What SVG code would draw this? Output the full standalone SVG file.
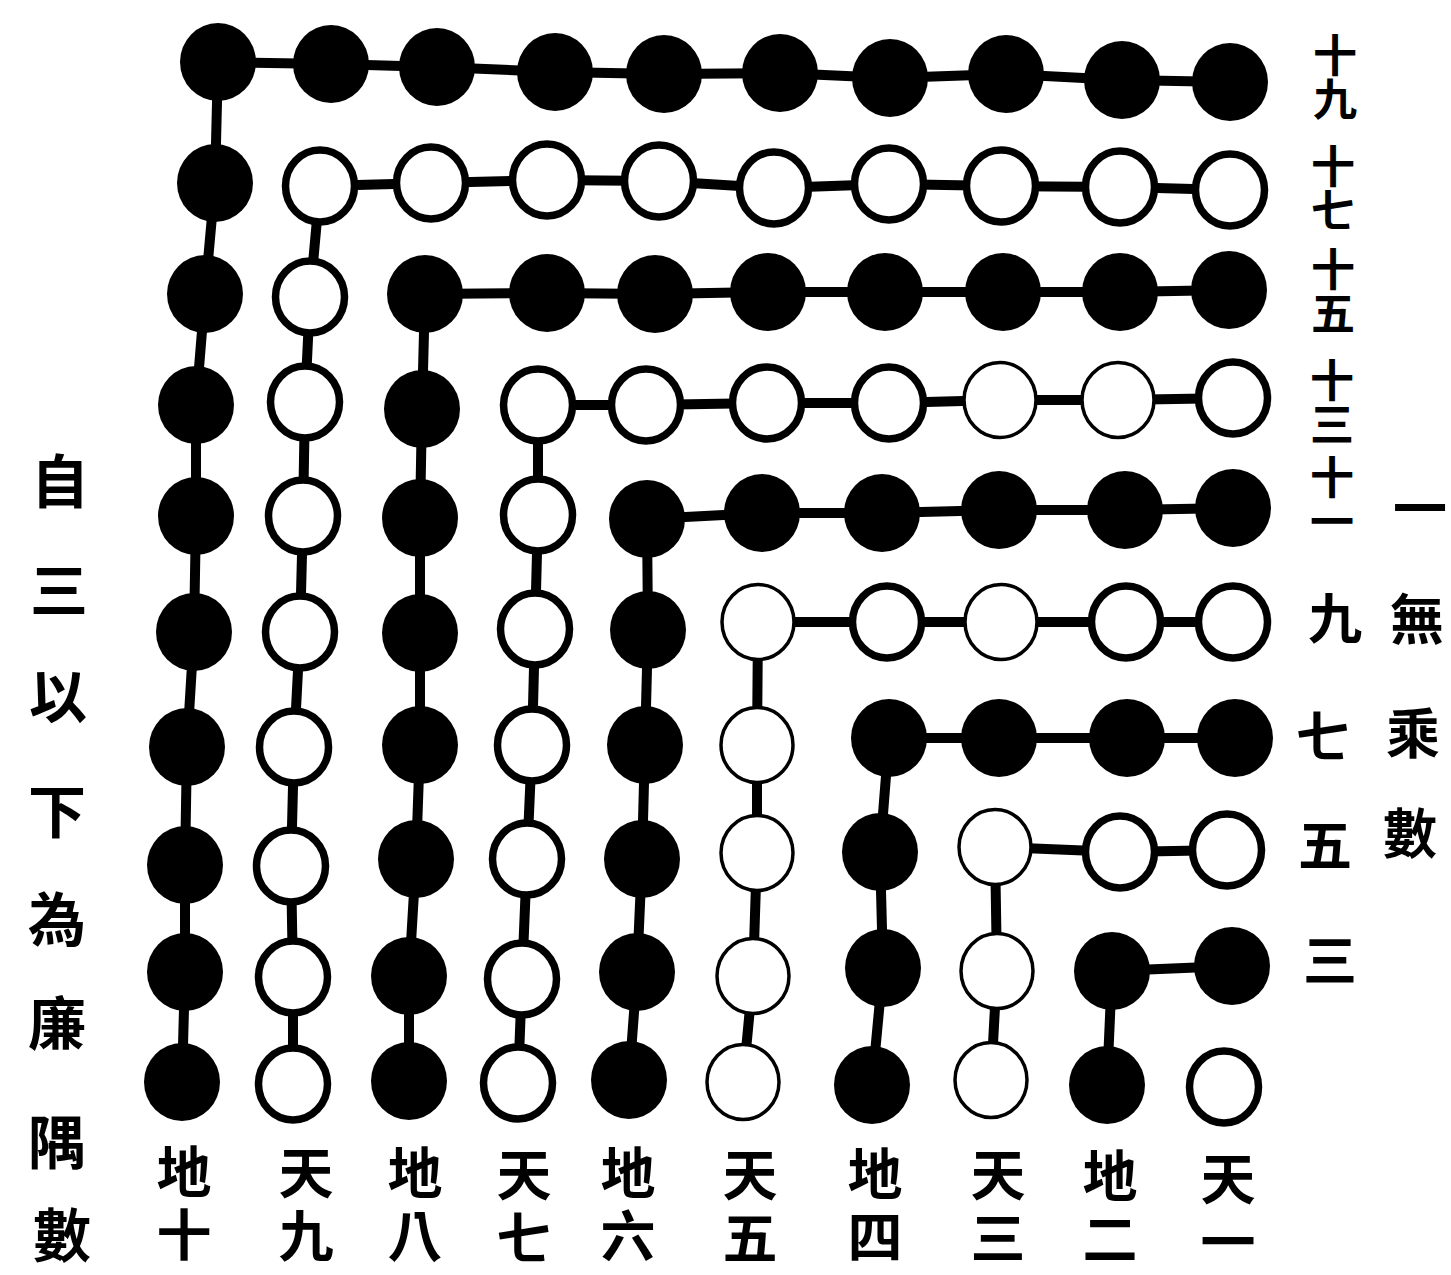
<svg xmlns="http://www.w3.org/2000/svg" xmlns:xlink="http://www.w3.org/1999/xlink" width="1451" height="1275" viewBox="0 0 1451 1275">
<style>
.bg{fill:#fff}
.b{fill:#000}
.w{fill:#fff;stroke:#000;stroke-width:7.5}
.wt{fill:#fff;stroke:#000;stroke-width:3.5}
.conn polyline{fill:none;stroke:#000;stroke-width:10;stroke-linejoin:round}
.t{font-family:"Noto Sans CJK TC","Noto Sans CJK SC",sans-serif;font-weight:700;fill:#000;text-anchor:middle}
.h{dominant-baseline:central}
.v{writing-mode:vertical-rl;text-orientation:upright}
.bot{font-size:55px;letter-spacing:8px}
.pair{font-size:44px}
.R{font-size:54px}
.LL{font-size:58px}
</style>
<defs>
<ellipse id="B" class="b" cx="0" cy="0" rx="38" ry="39"/>
<ellipse id="W" class="w" cx="0" cy="0" rx="34.5" ry="36"/>
<ellipse id="T" class="wt" cx="0" cy="0" rx="36" ry="37.5"/>
</defs>
<rect class="bg" x="0" y="0" width="1451" height="1275"/>
<g id="connectors" class="conn">
<polyline points="218,62 331,64 437,67 555,72 664,74 780,73 890,78 1006,74 1122,80 1230,82"/>
<polyline points="218,62 215,183 205,294 196,405 196,516 194,632 187,747 185,865 185,972 182,1082"/>
<polyline points="320,186 431,183 547,180 659,181 774,188 889,184 1001,186 1120,187 1230,190"/>
<polyline points="320,186 310,297 305,402 303,516 300,632 294,747 291,866 293,977 293,1084"/>
<polyline points="425,294 547,293 655,294 768,292 885,292 1003,292 1120,292 1229,290"/>
<polyline points="425,294 422,409 420,518 420,633 420,745 416,859 409,976 409,1081"/>
<polyline points="538,405 646,405 767,403 889,403 1000,400 1118,400 1233,398"/>
<polyline points="538,405 538,515 535,629 532,745 527,859 522,979 518,1083"/>
<polyline points="647,519 762,513 882,513 999,510 1125,510 1233,508"/>
<polyline points="647,519 648,630 645,745 642,859 637,972 629,1080"/>
<polyline points="758,622 887,622 1001,622 1126,622 1233,622"/>
<polyline points="758,622 757,745 757,853 753,976 743,1082"/>
<polyline points="889,738 999,738 1127,738 1235,738"/>
<polyline points="889,738 880,852 883,968 872,1085"/>
<polyline points="995,847 1120,852 1227,850"/>
<polyline points="995,847 997,971 991,1080"/>
<polyline points="1112,971 1232,966"/>
<polyline points="1112,971 1107,1085"/>
</g>
<g id="nodes">
<g id="n0-0"><use href="#B" x="218" y="62"/></g>
<g id="n0-1"><use href="#B" x="331" y="64"/></g>
<g id="n0-2"><use href="#B" x="437" y="67"/></g>
<g id="n0-3"><use href="#B" x="555" y="72"/></g>
<g id="n0-4"><use href="#B" x="664" y="74"/></g>
<g id="n0-5"><use href="#B" x="780" y="73"/></g>
<g id="n0-6"><use href="#B" x="890" y="78"/></g>
<g id="n0-7"><use href="#B" x="1006" y="74"/></g>
<g id="n0-8"><use href="#B" x="1122" y="80"/></g>
<g id="n0-9"><use href="#B" x="1230" y="82"/></g>
<g id="n1-0"><use href="#B" x="215" y="183"/></g>
<g id="n1-1"><use href="#W" x="320" y="186"/></g>
<g id="n1-2"><use href="#W" x="431" y="183"/></g>
<g id="n1-3"><use href="#W" x="547" y="180"/></g>
<g id="n1-4"><use href="#W" x="659" y="181"/></g>
<g id="n1-5"><use href="#W" x="774" y="188"/></g>
<g id="n1-6"><use href="#W" x="889" y="184"/></g>
<g id="n1-7"><use href="#W" x="1001" y="186"/></g>
<g id="n1-8"><use href="#W" x="1120" y="187"/></g>
<g id="n1-9"><use href="#W" x="1230" y="190"/></g>
<g id="n2-0"><use href="#B" x="205" y="294"/></g>
<g id="n2-1"><use href="#W" x="310" y="297"/></g>
<g id="n2-2"><use href="#B" x="425" y="294"/></g>
<g id="n2-3"><use href="#B" x="547" y="293"/></g>
<g id="n2-4"><use href="#B" x="655" y="294"/></g>
<g id="n2-5"><use href="#B" x="768" y="292"/></g>
<g id="n2-6"><use href="#B" x="885" y="292"/></g>
<g id="n2-7"><use href="#B" x="1003" y="292"/></g>
<g id="n2-8"><use href="#B" x="1120" y="292"/></g>
<g id="n2-9"><use href="#B" x="1229" y="290"/></g>
<g id="n3-0"><use href="#B" x="196" y="405"/></g>
<g id="n3-1"><use href="#W" x="305" y="402"/></g>
<g id="n3-2"><use href="#B" x="422" y="409"/></g>
<g id="n3-3"><use href="#W" x="538" y="405"/></g>
<g id="n3-4"><use href="#W" x="646" y="405"/></g>
<g id="n3-5"><use href="#W" x="767" y="403"/></g>
<g id="n3-6"><use href="#W" x="889" y="403"/></g>
<g id="n3-7"><use href="#T" x="1000" y="400"/></g>
<g id="n3-8"><use href="#T" x="1118" y="400"/></g>
<g id="n3-9"><use href="#W" x="1233" y="398"/></g>
<g id="n4-0"><use href="#B" x="196" y="516"/></g>
<g id="n4-1"><use href="#W" x="303" y="516"/></g>
<g id="n4-2"><use href="#B" x="420" y="518"/></g>
<g id="n4-3"><use href="#W" x="538" y="515"/></g>
<g id="n4-4"><use href="#B" x="647" y="519"/></g>
<g id="n4-5"><use href="#B" x="762" y="513"/></g>
<g id="n4-6"><use href="#B" x="882" y="513"/></g>
<g id="n4-7"><use href="#B" x="999" y="510"/></g>
<g id="n4-8"><use href="#B" x="1125" y="510"/></g>
<g id="n4-9"><use href="#B" x="1233" y="508"/></g>
<g id="n5-0"><use href="#B" x="194" y="632"/></g>
<g id="n5-1"><use href="#W" x="300" y="632"/></g>
<g id="n5-2"><use href="#B" x="420" y="633"/></g>
<g id="n5-3"><use href="#W" x="535" y="629"/></g>
<g id="n5-4"><use href="#B" x="648" y="630"/></g>
<g id="n5-5"><use href="#T" x="758" y="622"/></g>
<g id="n5-6"><use href="#W" x="887" y="622"/></g>
<g id="n5-7"><use href="#T" x="1001" y="622"/></g>
<g id="n5-8"><use href="#W" x="1126" y="622"/></g>
<g id="n5-9"><use href="#W" x="1233" y="622"/></g>
<g id="n6-0"><use href="#B" x="187" y="747"/></g>
<g id="n6-1"><use href="#W" x="294" y="747"/></g>
<g id="n6-2"><use href="#B" x="420" y="745"/></g>
<g id="n6-3"><use href="#W" x="532" y="745"/></g>
<g id="n6-4"><use href="#B" x="645" y="745"/></g>
<g id="n6-5"><use href="#T" x="757" y="745"/></g>
<g id="n6-6"><use href="#B" x="889" y="738"/></g>
<g id="n6-7"><use href="#B" x="999" y="738"/></g>
<g id="n6-8"><use href="#B" x="1127" y="738"/></g>
<g id="n6-9"><use href="#B" x="1235" y="738"/></g>
<g id="n7-0"><use href="#B" x="185" y="865"/></g>
<g id="n7-1"><use href="#W" x="291" y="866"/></g>
<g id="n7-2"><use href="#B" x="416" y="859"/></g>
<g id="n7-3"><use href="#W" x="527" y="859"/></g>
<g id="n7-4"><use href="#B" x="642" y="859"/></g>
<g id="n7-5"><use href="#T" x="757" y="853"/></g>
<g id="n7-6"><use href="#B" x="880" y="852"/></g>
<g id="n7-7"><use href="#T" x="995" y="847"/></g>
<g id="n7-8"><use href="#W" x="1120" y="852"/></g>
<g id="n7-9"><use href="#W" x="1227" y="850"/></g>
<g id="n8-0"><use href="#B" x="185" y="972"/></g>
<g id="n8-1"><use href="#W" x="293" y="977"/></g>
<g id="n8-2"><use href="#B" x="409" y="976"/></g>
<g id="n8-3"><use href="#W" x="522" y="979"/></g>
<g id="n8-4"><use href="#B" x="637" y="972"/></g>
<g id="n8-5"><use href="#T" x="753" y="976"/></g>
<g id="n8-6"><use href="#B" x="883" y="968"/></g>
<g id="n8-7"><use href="#T" x="997" y="971"/></g>
<g id="n8-8"><use href="#B" x="1112" y="971"/></g>
<g id="n8-9"><use href="#B" x="1232" y="966"/></g>
<g id="n9-0"><use href="#B" x="182" y="1082"/></g>
<g id="n9-1"><use href="#W" x="293" y="1084"/></g>
<g id="n9-2"><use href="#B" x="409" y="1081"/></g>
<g id="n9-3"><use href="#W" x="518" y="1083"/></g>
<g id="n9-4"><use href="#B" x="629" y="1080"/></g>
<g id="n9-5"><use href="#T" x="743" y="1082"/></g>
<g id="n9-6"><use href="#B" x="872" y="1085"/></g>
<g id="n9-7"><use href="#T" x="991" y="1080"/></g>
<g id="n9-8"><use href="#B" x="1107" y="1085"/></g>
<g id="n9-9"><use href="#W" x="1224" y="1087"/></g>
</g>
<g id="bottom-labels" class="t v bot">
<g id="lab-di10"><text x="184" y="1207">地十</text></g>
<g id="lab-tian9"><text x="306" y="1208">天九</text></g>
<g id="lab-di8"><text x="415" y="1208">地八</text></g>
<g id="lab-tian7"><text x="524" y="1210">天七</text></g>
<g id="lab-di6"><text x="628" y="1208">地六</text></g>
<g id="lab-tian5"><text x="750" y="1210">天五</text></g>
<g id="lab-di4"><text x="875" y="1209">地四</text></g>
<g id="lab-tian3"><text x="998" y="1210">天三</text></g>
<g id="lab-di2"><text x="1110" y="1211">地二</text></g>
<g id="lab-tian1"><text x="1228" y="1214">天一</text></g>
</g>
<g id="right-labels" class="t">
<g id="lab-19"><text class="v pair" x="1335" y="77">十九</text></g>
<g id="lab-17"><text class="v pair" x="1333" y="188">十七</text></g>
<g id="lab-15"><text class="v pair" x="1333" y="291">十五</text></g>
<g id="lab-13"><text class="v pair" x="1332" y="402">十三</text></g>
<g id="lab-11"><text class="v pair" x="1332" y="499">十一</text></g>
<g id="lab-9"><text class="h R" x="1335" y="615">九</text></g>
<g id="lab-7"><text class="h R" x="1323" y="733">七</text></g>
<g id="lab-5"><text class="h R" x="1325" y="842">五</text></g>
<g id="lab-3"><text class="h R" x="1330" y="957">三</text></g>
<g id="note-right"><text class="h R"><tspan x="1420" y="505">一</tspan><tspan x="1417" y="616">無</tspan><tspan x="1413" y="730">乘</tspan><tspan x="1410" y="830">數</tspan></text></g>
</g>
<g id="note-left" class="t h">
<text class="LL"><tspan x="60" y="478">自</tspan><tspan x="59" y="587">三</tspan><tspan x="58" y="693">以</tspan><tspan x="57" y="808">下</tspan><tspan x="57" y="916">為</tspan><tspan x="57" y="1020">廉</tspan><tspan x="57" y="1139">隅</tspan><tspan x="62" y="1232">數</tspan></text>
</g>
</svg>
